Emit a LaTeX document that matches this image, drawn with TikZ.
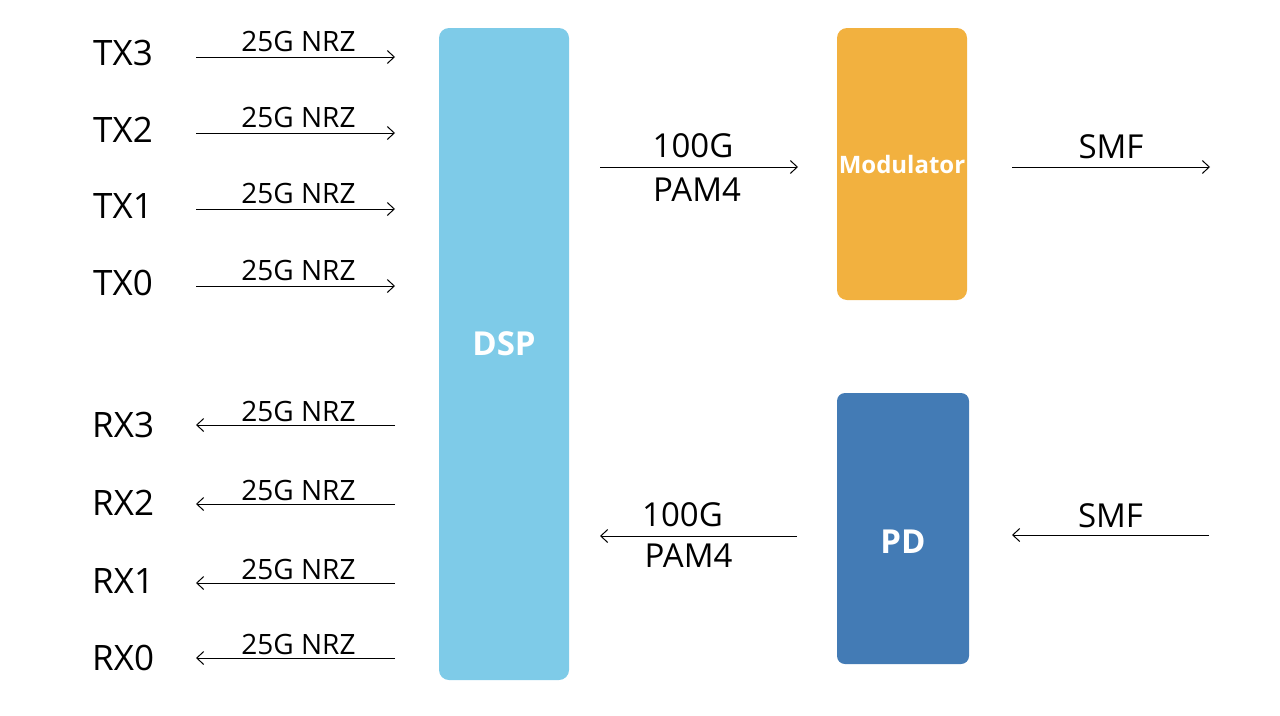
\documentclass[tikz,border=0pt]{standalone}
\usepackage{fontspec}
\setmainfont{Open Sans}
\usetikzlibrary{positioning,arrows.meta}

\definecolor{dspblue}{HTML}{7ECBE8}
\definecolor{modorange}{HTML}{F2B13F}
\definecolor{pdblue}{HTML}{437BB5}

\tikzset{
    >={Straight Barb[length=7pt,width=13pt]},
    lane/.style={font=\fontsize{35}{40}\selectfont, anchor=west, inner sep=0pt},
    rate/.style={font=\fontsize{28}{32}\selectfont, inner sep=0pt},
    big/.style={font=\fontsize{33}{38}\selectfont, inner sep=0pt},
    block/.style={rounded corners=10pt, inner sep=0pt, text=white},
    blocktext/.style={text=white, inner sep=0pt, font=\bfseries\fontsize{33}{38}\selectfont},
}

\begin{document}
\begin{tikzpicture}[x=1pt,y=-1pt]
    \useasboundingbox (0,0) rectangle (1280,715);

    % blocks
    \node[block, fill=dspblue, minimum width=130pt, minimum height=652pt,
        label={[blocktext, yshift=10pt]center:DSP}] (dsp) at (504,354) {};
    \node[block, fill=modorange, minimum width=130pt, minimum height=272pt,
        font=\bfseries\fontsize{24}{28}\selectfont] (mod) at (902,164) {Modulator};
    \node[block, fill=pdblue, minimum width=132pt, minimum height=271pt, rounded corners=8pt,
        label={[blocktext, yshift=-13pt]center:PD}] (pd) at (903,528.5) {};

    % lanes
    \node[lane] (tx3) at (93,53) {TX3};
    \node[lane] (tx2) at (93,130) {TX2};
    \node[lane] (tx1) at (93,206) {TX1};
    \node[lane] (tx0) at (93,283) {TX0};
    \node[lane] (rx3) at (92,425) {RX3};
    \node[lane] (rx2) at (92,503) {RX2};
    \node[lane] (rx1) at (92,581) {RX1};
    \node[lane] (rx0) at (92,658) {RX0};

    \coordinate (tx3a) at (196,57);  \coordinate (tx3b) at (395,57);
    \coordinate (tx2a) at (196,133); \coordinate (tx2b) at (395,133);
    \coordinate (tx1a) at (196,209); \coordinate (tx1b) at (395,209);
    \coordinate (tx0a) at (196,286); \coordinate (tx0b) at (395,286);
    \coordinate (rx3a) at (196,425); \coordinate (rx3b) at (395,425);
    \coordinate (rx2a) at (196,504); \coordinate (rx2b) at (395,504);
    \coordinate (rx1a) at (196,583); \coordinate (rx1b) at (395,583);
    \coordinate (rx0a) at (196,658); \coordinate (rx0b) at (395,658);

    \coordinate (txa) at (600,167);  \coordinate (txb) at (798,167);
    \coordinate (rxa) at (600,536);  \coordinate (rxb) at (797,536);
    \coordinate (fibo) at (1012,167); \coordinate (fibe) at (1210,167);
    \coordinate (fibi) at (1209,535); \coordinate (fibd) at (1012,535);

    \path[->, line width=1pt]
    (tx3a) edge node[rate, above=5pt, midway, xshift=3pt] {25G NRZ} (tx3b)
    (tx2a) edge node[rate, above=5pt, midway, xshift=3pt] {25G NRZ} (tx2b)
    (tx1a) edge node[rate, above=5pt, midway, xshift=3pt] {25G NRZ} (tx1b)
    (tx0a) edge node[rate, above=5pt, midway, xshift=3pt] {25G NRZ} (tx0b)
    (rx3b) edge node[rate, above=3pt, midway, xshift=3pt] {25G NRZ} (rx3a)
    (rx2b) edge node[rate, above=3pt, midway, xshift=3pt] {25G NRZ} (rx2a)
    (rx1b) edge node[rate, above=3pt, midway, xshift=3pt] {25G NRZ} (rx1a)
    (rx0b) edge node[rate, above=3pt, midway, xshift=3pt] {25G NRZ} (rx0a)
    ;

    \path[->, line width=1pt]
    (txa) edge node[big, above=9pt, midway, xshift=-6pt] {100G}
               node[big, below=10pt, midway, xshift=-2pt] {PAM4} (txb)
    (rxb) edge node[big, above=9pt, midway, xshift=-16pt] {100G}
               node[big, below=7pt, midway, xshift=-10pt] {PAM4} (rxa)
    (fibo) edge node[big, above=8pt, midway] {SMF} (fibe)
    (fibi) edge node[big, above=7pt, midway] {SMF} (fibd)
    ;
\end{tikzpicture}
\end{document}
